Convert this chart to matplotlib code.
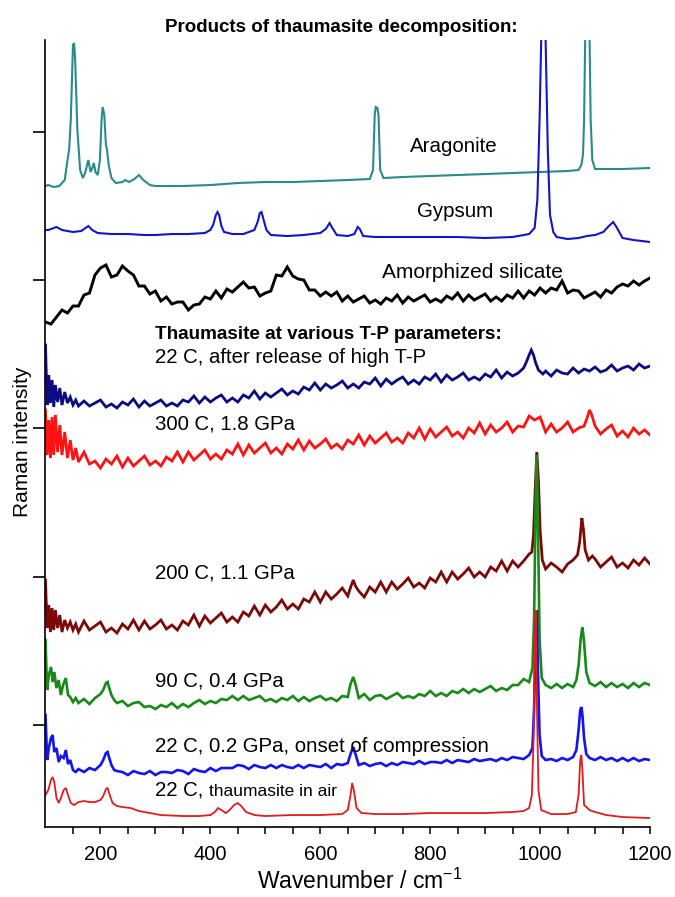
import matplotlib.pyplot as plt

plt.rcParams['font.family'] = ['Liberation Sans', 'DejaVu Sans']
plt.rcParams['mathtext.fontset'] = 'custom'
plt.rcParams['mathtext.rm'] = 'Liberation Sans'
plt.rcParams['mathtext.it'] = 'Liberation Sans'

# spectra, stacked with offsets already included (arbitrary intensity units)
# top: decomposition products
arag_wn = [100, 105, 115, 125, 135, 140, 143, 146, 150, 152, 154, 158, 163, 168, 172, 178, 182, 185, 188, 191,
           195, 199, 202, 204, 207, 210, 212, 215, 220, 228, 240, 245, 252, 262, 270, 278, 290, 300, 350, 400,
           450, 500, 550, 600, 650, 690, 696, 699, 701, 704, 706, 709, 715, 750, 800, 850, 900, 950, 1000, 1050,
           1070, 1075, 1078, 1080, 1082, 1083, 1089, 1090, 1092, 1095, 1100, 1150, 1200]
arag_int = [814, 815, 813, 814, 820, 840, 850, 880, 955, 957, 940, 870, 830, 822, 827, 840, 828, 832, 837, 828,
            825, 840, 880, 893, 885, 855, 850, 835, 822, 817, 818, 820, 818, 821, 825, 820, 815, 814, 814, 815,
            817, 818, 818, 819, 820, 821, 830, 885, 893, 892, 885, 830, 822, 823, 824, 825, 826, 827, 828, 829,
            830, 835, 845, 880, 960, 1100, 1100, 960, 880, 840, 831, 831, 832]

gyps_wn = [100, 105, 115, 120, 130, 140, 150, 165, 178, 185, 195, 220, 250, 280, 300, 330, 360, 390, 400, 405,
           410, 413, 416, 420, 425, 440, 460, 480, 486, 490, 493, 497, 502, 510, 540, 570, 600, 610, 617, 622,
           630, 650, 662, 668, 672, 678, 700, 750, 800, 850, 900, 950, 980, 990, 995, 999, 1002, 1003, 1009, 1010,
           1014, 1018, 1024, 1030, 1050, 1070, 1085, 1100, 1115, 1125, 1133, 1140, 1150, 1170, 1200]
gyps_int = [770, 770, 772, 773, 770, 769, 768, 769, 774, 770, 767, 766, 766, 765, 765, 766, 766, 767, 770, 775,
            785, 788, 785, 774, 768, 766, 766, 770, 778, 787, 788, 780, 770, 765, 764, 765, 767, 771, 777, 772,
            765, 764, 766, 773, 771, 764, 763, 763, 763, 763, 762, 763, 766, 772, 800, 880, 960, 1100, 1100, 960,
            850, 785, 768, 763, 761, 762, 764, 765, 768, 774, 778, 772, 762, 760, 758]

amor_wn = list(range(100, 1201, 10))
amor_int = [678, 676, 683, 690, 687, 694, 694, 705, 707, 725,
            732, 735, 723, 725, 734, 729, 725, 714, 714, 706,
            709, 699, 703, 696, 698, 698, 690, 695, 696, 703,
            701, 709, 702, 711, 708, 713, 718, 712, 713, 704,
            707, 709, 725, 724, 733, 724, 721, 720, 710, 710,
            704, 708, 704, 708, 699, 704, 698, 701, 704, 697,
            700, 696, 702, 699, 705, 697, 703, 699, 702, 705,
            698, 701, 698, 704, 701, 707, 699, 705, 700, 703,
            706, 699, 703, 699, 705, 702, 709, 702, 709, 705,
            712, 707, 712, 710, 719, 707, 710, 709, 702, 705,
            708, 703, 710, 707, 713, 716, 714, 719, 715, 719, 722]

# bottom: thaumasite at various T-P
rel_wn = [100, 103, 106, 109, 112, 115, 118, 122, 126, 130, 135, 140, 145, 150, 155, 160] + list(range(170, 961, 10)) + \
         [970, 975, 980, 984, 988, 992, 997, 1005] + list(range(1010, 1201, 10))
rel_int = [655, 595, 625, 597, 620, 593, 615, 598, 612, 595, 608, 597, 603, 595, 600, 594,
           599, 594, 597, 600, 593, 596, 592, 598, 595, 601, 593, 599, 594, 597, 600, 594, 597, 594, 600, 598,
           604, 597, 603, 598, 602, 605, 598, 602, 598, 605, 602, 609, 601, 607, 603, 607, 611, 605, 609, 606,
           613, 610, 617, 610, 616, 612, 615, 619, 612, 616, 612, 618, 616, 622, 614, 621, 616, 620, 623, 616,
           620, 616, 623, 620, 626, 618, 625, 620, 623, 627, 620, 623, 620, 626, 623, 630, 622, 628, 624, 627,
           632, 638, 645, 650, 645, 637, 630, 626,
           629, 624, 630, 627, 626, 632, 627, 631, 629, 633, 628, 630, 635, 629, 632, 634, 630, 636, 632, 634]

hp300_wn = [100, 103, 106, 109, 112, 115, 118, 122, 126, 130, 135, 140, 145, 150, 155, 160] + list(range(170, 1081, 10)) + \
           [1086, 1090, 1094] + list(range(1100, 1201, 10))
hp300_int = [590, 545, 580, 542, 583, 545, 585, 548, 575, 545, 568, 542, 560, 540, 552, 538,
             548, 536, 539, 532, 541, 536, 544, 533, 542, 534, 539, 544, 535, 539, 534, 543, 539, 548, 538, 548,
             540, 545, 550, 541, 546, 541, 550, 546, 556, 545, 555, 547, 552, 557, 547, 552, 546, 556, 551, 560,
             550, 559, 552, 556, 561, 552, 556, 551, 560, 556, 565, 555, 564, 557, 562, 567, 558, 562, 557, 567,
             562, 572, 561, 571, 563, 568, 573, 564, 568, 562, 572, 567, 577, 566, 575, 568, 572, 578, 568, 574,
             573, 584, 580, 583, 568, 576, 568, 572, 578, 568, 572, 574,
             583, 590, 585,
             574, 566, 571, 575, 564, 569, 563, 572, 566, 570, 565]

hp200_wn = [100, 103, 106, 109, 112, 115, 118, 122, 126, 130, 135, 140, 145, 150, 155, 160] + list(range(170, 651, 10)) + \
           [656, 660, 664] + list(range(670, 981, 10)) + [985, 988, 991, 994, 997, 1000, 1004] + \
           [1010, 1020, 1030, 1040, 1050, 1060, 1068, 1072, 1076, 1079, 1082, 1088, 1095] + list(range(1100, 1201, 10))
hp200_int = [420, 372, 395, 368, 392, 370, 390, 372, 385, 368, 380, 372, 378, 370, 376, 368,
             379, 370, 374, 378, 368, 372, 367, 376, 371, 380, 370, 379, 371, 375, 380, 371, 375, 370, 379, 375,
             385, 374, 384, 377, 382, 387, 378, 383, 378, 388, 384, 394, 385, 395, 388, 393, 400, 391, 396, 391,
             401, 398, 408, 398, 408, 401, 406, 412, 404,
             414, 420, 414,
             409, 403, 413, 408, 418, 408, 418, 411, 416, 422, 413, 417, 412, 422, 418, 428, 418, 428, 421, 426,
             432, 423, 428, 423, 433, 429, 439, 429, 439, 433, 439, 446,
             448, 465, 510, 548, 520, 470, 440,
             431, 437, 433, 428, 436, 440, 445, 458, 482, 470, 450, 440, 444,
             441, 433, 438, 443, 433, 437, 432, 440, 435, 442, 436]

hp90_wn = [100, 103, 106, 110, 113, 116, 120, 124, 128, 132, 137, 141, 145, 150, 155, 160, 170, 180, 190, 200,
           205, 210, 213, 216, 220, 225, 230] + list(range(240, 651, 10)) + [655, 660, 664] + list(range(670, 981, 10)) + \
          [986, 989, 992, 994, 996, 999, 1003, 1010, 1020, 1030, 1040, 1050, 1060, 1066, 1070, 1074, 1077, 1080, 1084,
           1090] + list(range(1100, 1201, 10))
hp90_int = [360, 310, 325, 333, 318, 328, 312, 320, 305, 315, 322, 305, 303, 298, 302, 297, 301, 296, 302, 306,
            310, 317, 318, 312, 305, 300, 297,
            299, 294, 297, 298, 293, 294, 291, 295, 293, 297, 292, 296, 293, 297, 300, 296, 299, 297, 301, 300,
            304, 300, 304, 300, 302, 304, 299, 301, 298, 302, 300, 304, 299, 303, 299, 302, 304, 300, 302, 299,
            304, 303,
            316, 323, 316,
            302, 306, 300, 304, 305, 301, 304, 307, 302, 304, 302, 306, 304, 309, 304, 307, 304, 309, 307, 311,
            307, 311, 308, 311, 314, 309, 312, 310, 315, 315, 321, 318,
            332, 380, 500, 545, 480, 360, 322, 315, 312, 316, 312, 316, 313, 320, 335, 362, 373, 358, 328,
            317, 314, 318, 313, 317, 313, 316, 312, 317, 313, 317, 315]

hp02_wn = [100, 103, 106, 110, 113, 116, 120, 124, 128, 133, 137, 141, 145, 150, 155, 160, 170, 180, 190, 200,
           205, 210, 213, 216, 220, 225, 230] + list(range(240, 651, 10)) + [655, 660, 664] + list(range(670, 981, 10)) + \
          [986, 989, 992, 994, 996, 999, 1003, 1010, 1020, 1030, 1040, 1050, 1060, 1066, 1070, 1073, 1075, 1077, 1080,
           1084, 1090] + list(range(1100, 1201, 10))
hp02_int = [285, 240, 252, 262, 265, 248, 252, 238, 244, 242, 250, 236, 240, 230, 228, 231, 228, 232, 230, 235,
            240, 247, 248, 242, 235, 230, 229,
            228, 225, 229, 227, 226, 229, 225, 228, 228, 227, 230, 229, 226, 231, 229, 228, 232, 229, 232, 232,
            232, 235, 234, 231, 235, 233, 232, 235, 232, 235, 233, 232, 235, 232, 235, 234, 233, 236, 232, 236,
            235, 237,
            246, 253, 246,
            235, 237, 234, 236, 237, 234, 237, 235, 238, 237, 236, 239, 236, 238, 238, 237, 240, 237, 240, 239,
            238, 241, 239, 240, 241, 239, 242, 240, 243, 242, 241, 245,
            252, 290, 370, 390, 330, 265, 244, 240, 241, 239, 242, 240, 243, 250, 270, 290, 293, 285, 262,
            246, 242, 240, 243, 240, 242, 239, 242, 239, 242, 239, 241, 240]

air_wn = [100, 105, 110, 113, 116, 120, 124, 128, 133, 137, 141, 146, 152, 160, 170, 180, 190, 200, 205, 210,
          213, 217, 222, 230, 240, 255, 270, 290, 310, 350, 380, 400, 408, 414, 420, 428, 435, 443, 450, 456,
          465, 480, 500, 550, 600, 640, 650, 655, 658, 661, 666, 675, 700, 750, 800, 850, 900, 950, 970, 980,
          985, 988, 990, 992, 994, 997, 1002, 1020, 1050, 1065, 1070, 1073, 1075, 1077, 1080, 1090, 1100, 1120,
          1150, 1200]
air_int = [205, 210, 220, 223, 218, 202, 197, 202, 210, 212, 205, 197, 195, 198, 199, 198, 198, 200, 204, 211,
           212, 205, 197, 194, 193, 192, 189, 187, 185, 184, 184, 185, 188, 192, 190, 187, 190, 195, 197, 194,
           188, 185, 184, 185, 185, 186, 190, 205, 217, 210, 192, 187, 186, 186, 187, 187, 187, 188, 189, 192,
           205, 260, 350, 390, 300, 210, 190, 186, 186, 188, 205, 240, 245, 230, 195, 190, 188, 185,
           183, 182]

spectra = [
    (arag_wn, arag_int, '#2b8a8a', 1.5),
    (gyps_wn, gyps_int, '#1414c8', 1.5),
    (amor_wn, amor_int, 'black', 2.1),
    (rel_wn, rel_int, '#0c0c80', 2.0),
    (hp300_wn, hp300_int, '#ff1212', 2.0),
    (hp200_wn, hp200_int, '#7c0808', 2.0),
    (hp90_wn, hp90_int, '#178a17', 1.9),
    (hp02_wn, hp02_int, '#1414f0', 1.9),
    (air_wn, air_int, '#e01c1c', 1.3),
]

fig = plt.figure(figsize=(6.75, 8.97), dpi=100)
ax = fig.add_axes([0.0674, 0.078, 0.8956, 0.8774])

for wn, inten, col, lw in spectra:
    ax.plot(wn, inten, color=col, lw=lw, solid_joinstyle='miter')

ax.set_xlim(100, 1200)
ax.set_ylim(173, 960)
ax.set_xticks([200, 400, 600, 800, 1000, 1200])
ax.set_xticks(list(range(150, 1200, 50)), minor=True)
ax.set_yticks([275, 423, 572, 720, 868])
ax.set_yticklabels([])
ax.spines['top'].set_visible(False)
ax.spines['right'].set_visible(False)
ax.spines['left'].set_linewidth(1.2)
ax.spines['bottom'].set_linewidth(1.2)
ax.tick_params(axis='x', which='both', direction='out', length=5, width=1.1, labelsize=14.5, pad=8)
ax.tick_params(axis='y', which='major', direction='out', length=8.5, width=1.2)

ax.set_xlabel('Wavenumber / cm$^{-1}$', fontsize=16.5, labelpad=3)
ax.xaxis.label.set_x(0.52)
ax.set_ylabel('Raman intensity', fontsize=15)
ax.yaxis.set_label_coords(-0.022, 0.49)

fig.text(165 / 675, 1 - 32 / 897, 'Products of thaumasite decomposition:', fontsize=13.5, fontweight='bold',
         ha='left', va='baseline')

ax.text(764, 848, 'Aragonite', fontsize=14.8, va='baseline')
ax.text(776, 783, 'Gypsum', fontsize=14.8, va='baseline')
ax.text(713, 722, 'Amorphized silicate', fontsize=15, va='baseline')
ax.text(300, 661, 'Thaumasite at various T-P parameters:', fontsize=13.6, fontweight='bold', va='baseline')
ax.text(300, 637, '22 C, after release of high T-P', fontsize=14.7, va='baseline')
ax.text(300, 571, '300 C, 1.8 GPa', fontsize=14.7, va='baseline')
ax.text(300, 422, '200 C, 1.1 GPa', fontsize=14.7, va='baseline')
ax.text(300, 314, '90 C, 0.4 GPa', fontsize=14.7, va='baseline')
ax.text(300, 248, '22 C, 0.2 GPa, onset of compression', fontsize=14.7, va='baseline')
t = ax.text(300, 205, '22 C, ', fontsize=14.7, va='baseline')
ax.annotate('thaumasite in air', xy=(1, 0), xycoords=t, xytext=(0, 0), textcoords='offset points',
            fontsize=12.5, va='bottom', ha='left')

fig.savefig('out.png', dpi=100)
